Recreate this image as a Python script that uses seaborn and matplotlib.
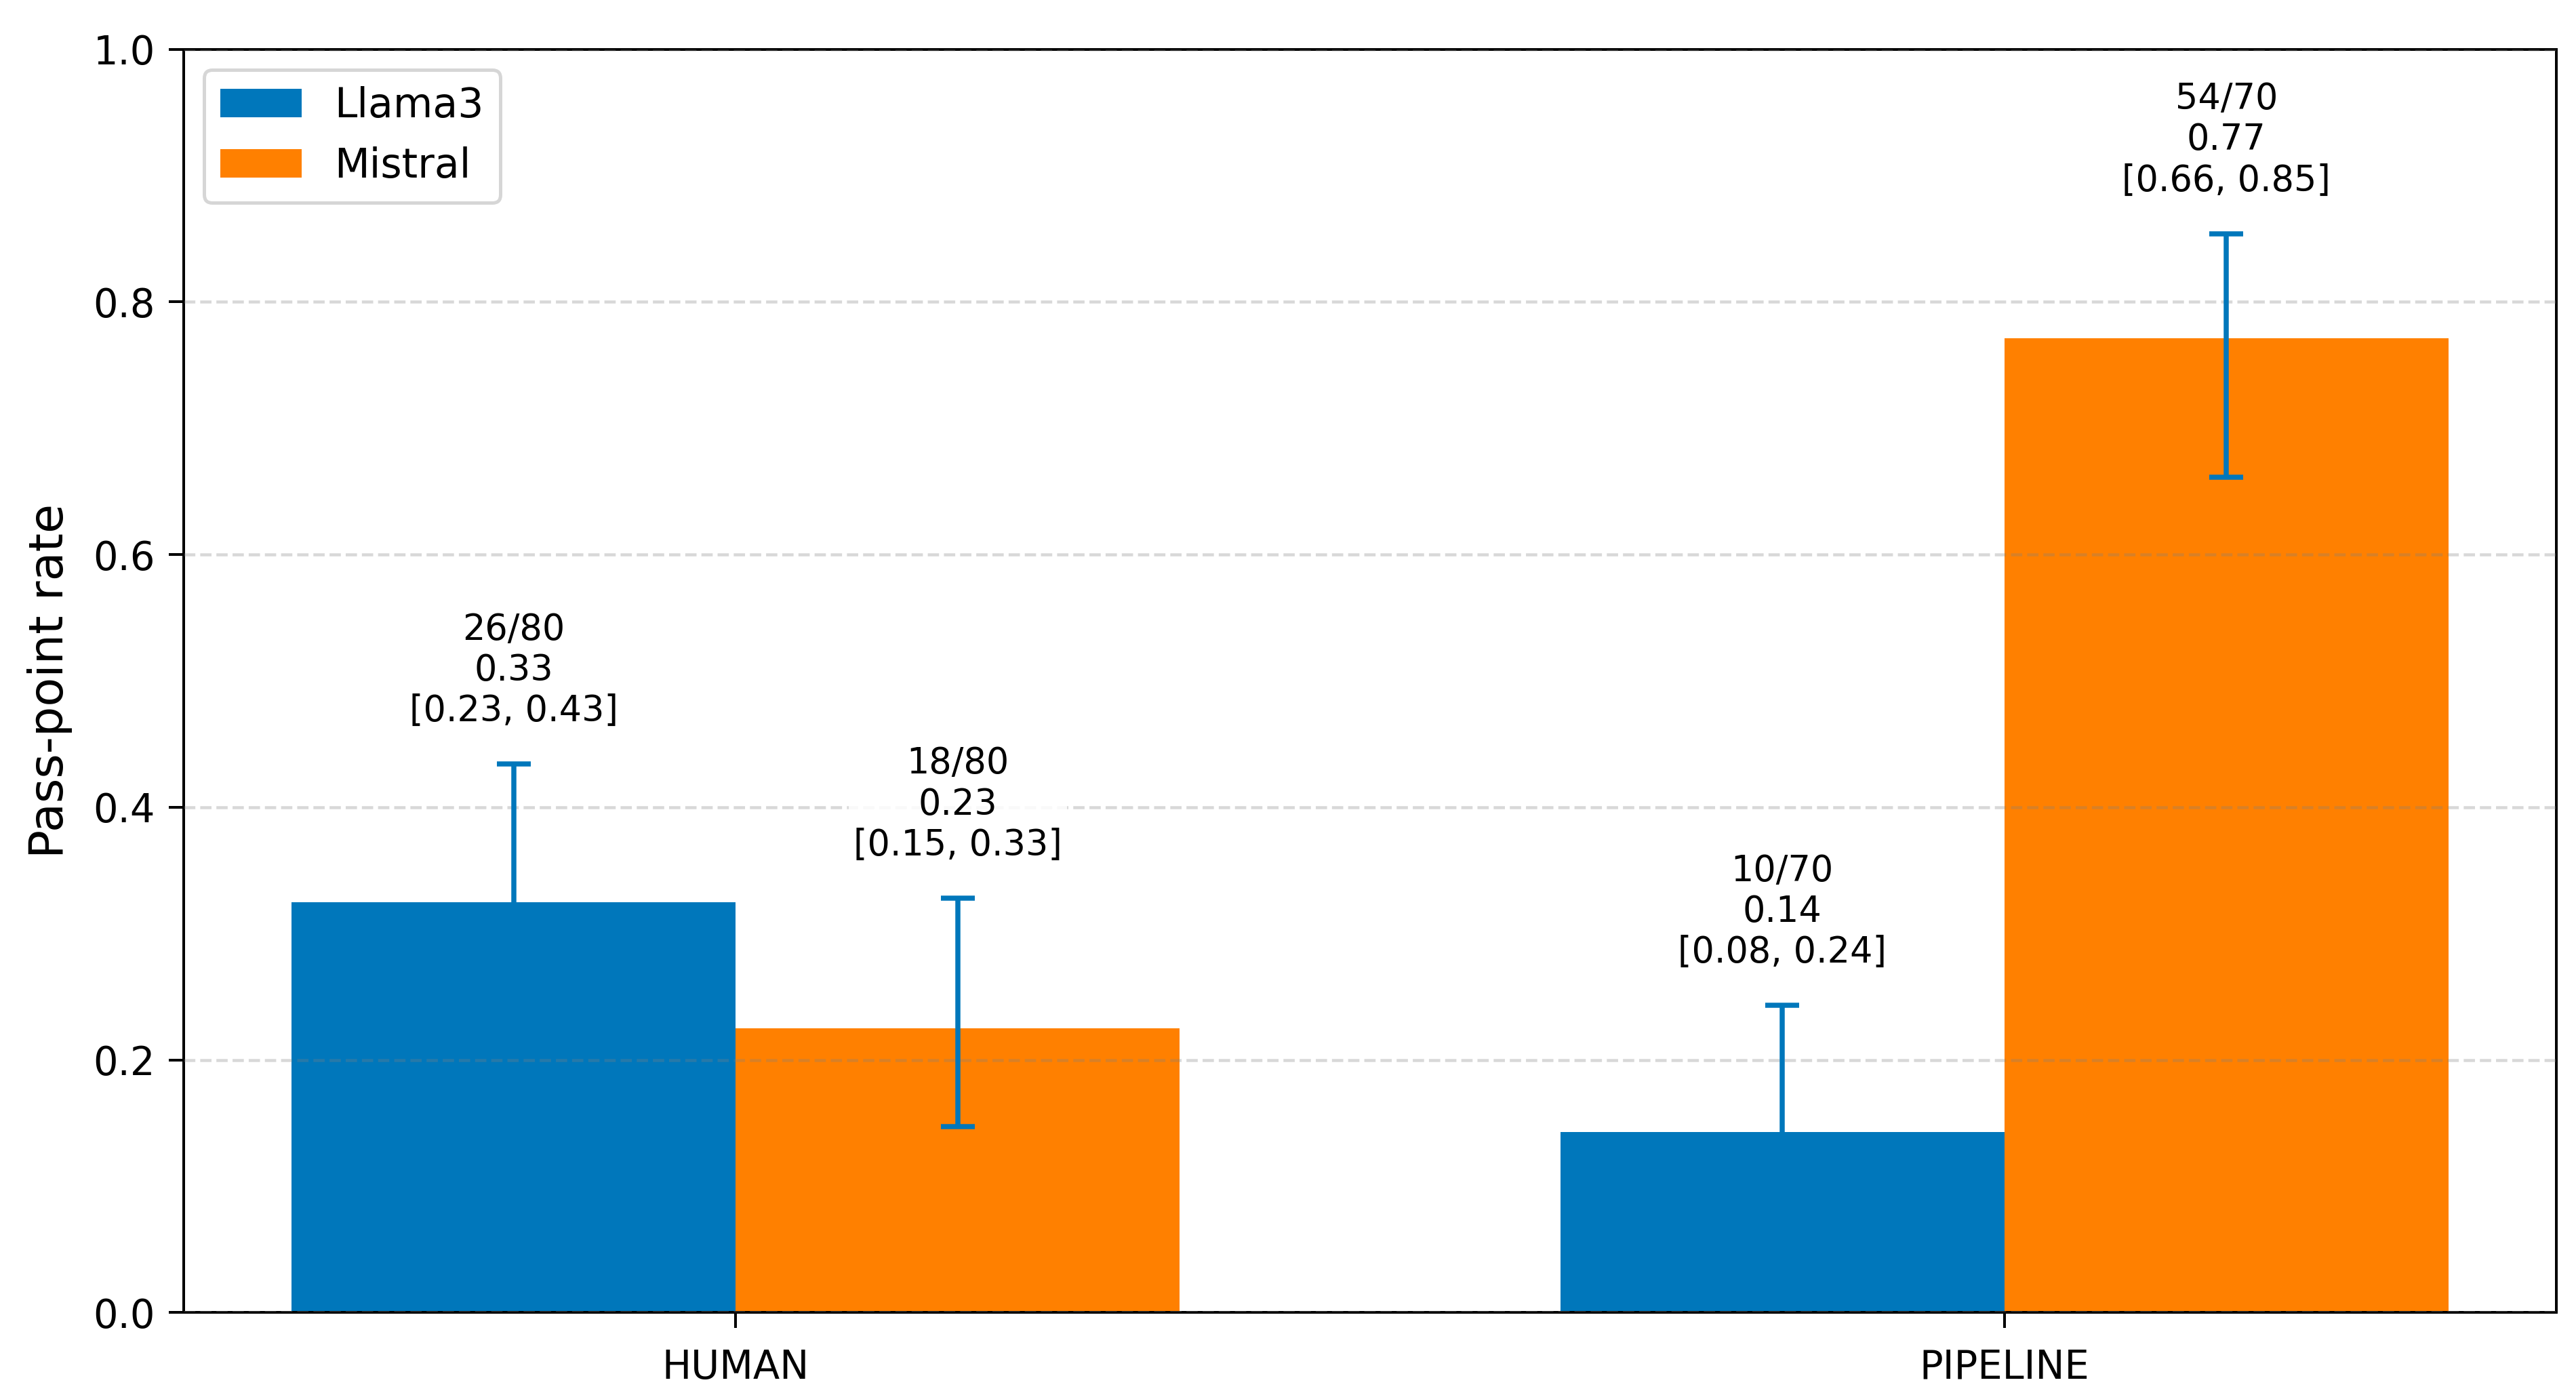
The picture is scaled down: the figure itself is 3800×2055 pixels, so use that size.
import numpy as np
import pandas as pd
import matplotlib
matplotlib.use("Agg")
import matplotlib.pyplot as plt
import seaborn as sns

# data
sources = ["HUMAN", "PIPELINE"]
models = ["Llama3", "Mistral"]
src_col = ["HUMAN", "HUMAN", "PIPELINE", "PIPELINE"]
model_col = ["Llama3", "Mistral", "Llama3", "Mistral"]
passed = [26, 18, 10, 54]
totals = [80, 80, 70, 70]
rates = [0.325, 0.225, 0.143, 0.771]
ci_low = [0.232, 0.147, 0.080, 0.661]
ci_high = [0.434, 0.328, 0.243, 0.854]

BLUE = "#0077BB"
ORANGE = "#FF8000"

df = pd.DataFrame({"source": src_col, "model": model_col, "rate": rates,
                   "lo": ci_low, "hi": ci_high, "k": passed, "n": totals})

fig, ax = plt.subplots(figsize=(3800 / 360, 2055 / 360))
fig.subplots_adjust(left=0.0714, right=0.9923, bottom=0.0578, top=0.9646)

sns.barplot(data=df, x="source", y="rate", hue="model", order=sources,
            hue_order=models, palette={"Llama3": BLUE, "Mistral": ORANGE},
            saturation=1, errorbar=None, width=0.7, ax=ax)

# bar patches come out hue by hue, categories inside
for i, bar in enumerate(ax.patches[:len(df)]):
    m = models[i // len(sources)]
    s = sources[i % len(sources)]
    row = df[(df.model == m) & (df.source == s)].iloc[0]
    xc = bar.get_x() + bar.get_width() / 2
    ax.errorbar(xc, row.rate, yerr=[[row.rate - row.lo], [row.hi - row.rate]],
                fmt="none", ecolor=BLUE, elinewidth=1.5, capsize=5, capthick=1.5,
                zorder=4)
    label = f"{row.k}/{row.n}\n{row.rate:.2f}\n[{row.lo:.2f}, {row.hi:.2f}]"
    ax.text(xc, row.hi + 0.028, label, ha="center", va="bottom", fontsize=10.5,
            zorder=5, bbox=dict(facecolor="white", edgecolor="none", alpha=0.85, pad=1.5))

ax.set_ylim(0, 1.0)
ax.set_xlabel("")
ax.set_ylabel("Pass-point rate", fontsize=14, labelpad=6)
ax.tick_params(axis="y", labelsize=11.5, length=4.5, pad=4)
ax.tick_params(axis="x", labelsize=11.5, length=4.5, pad=6)
ax.yaxis.grid(True, linestyle="--", color="gray", alpha=0.3, linewidth=0.9)
ax.set_axisbelow(False)
ax.legend(loc="upper left", fontsize=12)

plt.savefig("out.png", dpi=360)
plt.close()
